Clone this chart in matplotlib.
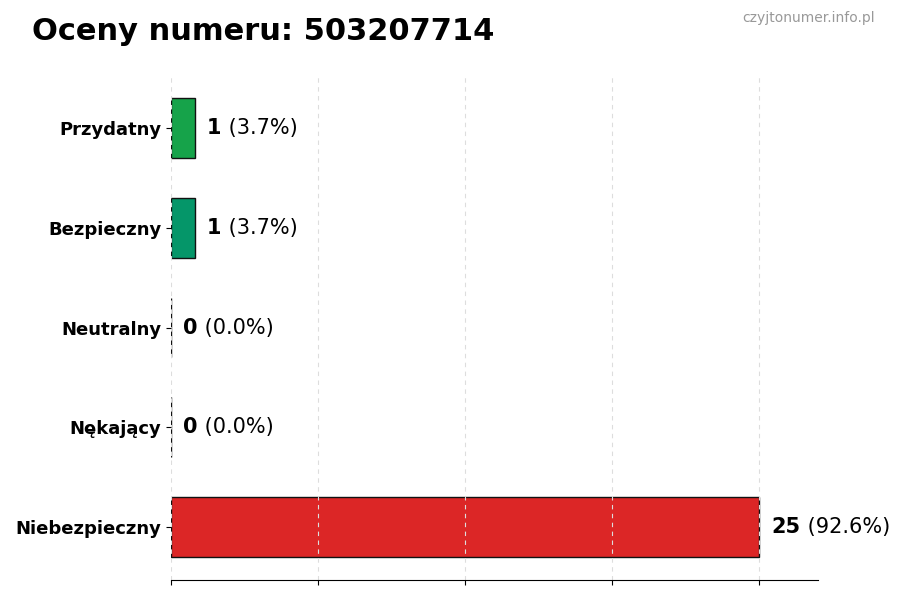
import numpy as np
import matplotlib.pyplot as plt

categories = ['Niebezpieczny', 'Nękający', 'Neutralny', 'Bezpieczny', 'Przydatny']
counts = [25, 0, 0, 1, 1]
colors = ['#dc2626', '#6b7280', '#9ca3af', '#059669', '#16a34a']
number = '503207714'

total = sum(counts)
percents = [c / total * 100 for c in counts]

fig = plt.figure(figsize=(9, 6), dpi=100)
ax = fig.add_axes([0.19, 0.0333, 0.719, 0.8417])

y = np.arange(len(categories))
ax.barh(y, counts, height=0.6, color=colors, edgecolor='#111111', linewidth=1)

ax.set_yticks(y)
ax.set_yticklabels(categories, fontsize=13, fontweight='bold')
ax.set_xlim(0, max(counts) * 1.1)
ax.set_xticks(np.linspace(0, max(counts), 5))
ax.set_xticklabels([])
ax.grid(axis='x', linestyle=(0, (4, 4)), color='#dddddd', linewidth=0.8)

for side in ['top', 'right', 'left']:
    ax.spines[side].set_visible(False)

for yi, c, p in zip(y, counts, percents):
    t1 = ax.annotate(str(c), xy=(c, yi), xytext=(9, 0), textcoords='offset points',
                     va='center', ha='left', fontsize=15, fontweight='bold')
    ax.annotate(f' ({p:.1f}%)', xy=(1, 0.5), xycoords=t1,
                va='center', ha='left', fontsize=15)

fig.text(0.036, 0.948, f'Oceny numeru: {number}', fontsize=22, fontweight='bold',
         ha='left', va='center')
fig.text(0.972, 0.97, 'czyjtonumer.info.pl', fontsize=10, color='#999999',
         ha='right', va='center')

fig.savefig('out.png', dpi=100)
